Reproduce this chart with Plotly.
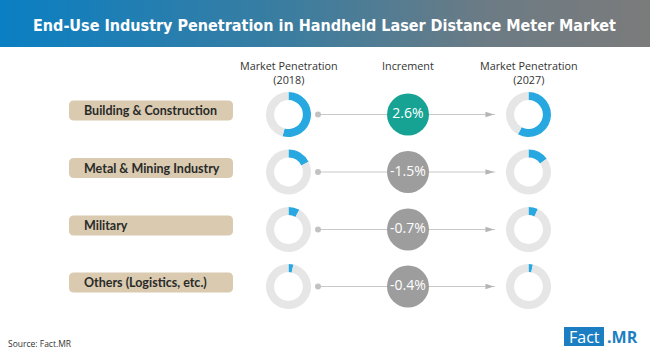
import plotly.graph_objects as go

# ---------------- data ----------------
industries = ["Building & Construction", "Metal & Mining Industry", "Military", "Others (Logistics, etc.)"]
penetration_2018 = [54.3, 17.5, 8.0, 3.5]
penetration_2027 = [57.8, 15.0, 6.8, 3.1]
increment_values = [2.6, -1.5, -0.7, -0.4]
increment_labels = ["2.6%", "-1.5%", "-0.7%", "-0.4%"]
header_labels = ["Market Penetration<br>(2018)", "Increment", "Market Penetration<br>(2027)"]
title_text = "End-Use Industry Penetration in Handheld Laser Distance Meter Market"
source_text = "Source: Fact.MR"

# ---------------- layout constants (pixels) ----------------
W, H = 650, 355
ROW_Y = [114.5, 172, 229.5, 286.5]
X_2018, X_INC, X_2027 = 288.5, 408, 528.5
DONUT_R = 22.5
INC_SIZE = 42
BLUE = "#27a8e1"
RING = "#e6e6e6"
TEAL = "#17a394"
GRAYC = "#9d9d9d"
LINE = "#c9c9c9"
TAN = "#d9cab0"

fig = go.Figure()

# title gradient band
fig.add_trace(go.Scatter(
    x=[0, W, W, 0, 0], y=[0, 0, 47, 47, 0], mode="lines", fill="toself",
    line=dict(width=0), hoverinfo="skip", showlegend=False,
    fillgradient=dict(type="horizontal",
                      colorscale=[[0, "#0a7fc3"], [0.45, "#3c7d9f"], [0.75, "#6c7b84"], [1, "#7b7b7b"]]),
))

# connecting lines with dots and arrows
for y in ROW_Y:
    fig.add_trace(go.Scatter(x=[318, 495], y=[y, y], mode="lines",
                             line=dict(color=LINE, width=1.2), hoverinfo="skip", showlegend=False))
fig.add_trace(go.Scatter(x=[318] * len(ROW_Y), y=ROW_Y, mode="markers",
                         marker=dict(color="#c2c2c2", size=6), hoverinfo="skip", showlegend=False))
fig.add_trace(go.Scatter(x=[494] * len(ROW_Y), y=ROW_Y, mode="markers",
                         marker=dict(color="#b5b5b5", size=9, symbol="arrow", angle=90),
                         hoverinfo="skip", showlegend=False))

# increment circles
fig.add_trace(go.Scatter(
    x=[X_INC] * len(ROW_Y), y=ROW_Y, mode="markers+text",
    marker=dict(size=INC_SIZE, color=[TEAL if v > 0 else GRAYC for v in increment_values], line=dict(width=0)),
    text=increment_labels, textposition="middle center",
    textfont=dict(color="white", size=14, family="Open Sans"),
    hoverinfo="skip", showlegend=False,
))


def dom(cx, cy, r):
    return dict(x=[(cx - r) / W, (cx + r) / W], y=[1 - (cy + r) / H, 1 - (cy - r) / H])


for i, y in enumerate(ROW_Y):
    for cx, vals in ((X_2018, penetration_2018), (X_2027, penetration_2027)):
        fig.add_trace(go.Pie(
            values=[vals[i], 100 - vals[i]], hole=0.64, sort=False, direction="clockwise", rotation=0,
            marker=dict(colors=[BLUE, RING], line=dict(width=0)),
            textinfo="none", hoverinfo="skip", showlegend=False, domain=dom(cx, y, DONUT_R),
        ))

shapes = []
annotations = []


def rounded_rect(x0, y0, x1, y1, r):
    return (f"M {x0 + r},{y0} L {x1 - r},{y0} Q {x1},{y0} {x1},{y0 + r} L {x1},{y1 - r} "
            f"Q {x1},{y1} {x1 - r},{y1} L {x0 + r},{y1} Q {x0},{y1} {x0},{y1 - r} "
            f"L {x0},{y0 + r} Q {x0},{y0} {x0 + r},{y0} Z")


for i, name in enumerate(industries):
    yc = ROW_Y[i] - 4
    shapes.append(dict(type="path", xref="x", yref="y", path=rounded_rect(69, yc - 10, 233, yc + 10, 5),
                       fillcolor=TAN, line=dict(width=0), layer="below"))
    annotations.append(dict(x=82, y=yc, xref="x", yref="y", text=f"<b>{name}</b>", showarrow=False,
                            xanchor="left", yanchor="middle",
                            font=dict(family="Lato", size=12.5, color="#2a2a2a")))

# headers
for hx, txt in zip((X_2018, X_INC, X_2027), header_labels):
    annotations.append(dict(x=hx, y=56, xref="x", yref="y", text=txt, showarrow=False,
                            xanchor="center", yanchor="top",
                            font=dict(family="Open Sans", size=10.8, color="#333333")))

# title
annotations.append(dict(x=W / 2 - 1, y=25, xref="x", yref="y", text=f"<b>{title_text}</b>", showarrow=False,
                        xanchor="center", yanchor="middle",
                        font=dict(family="DejaVu Sans Condensed, Roboto", size=16,
                                  color="white")))

# source
annotations.append(dict(x=6, y=343, xref="x", yref="y", text=source_text, showarrow=False,
                        xanchor="left", yanchor="middle",
                        font=dict(family="Open Sans", size=8.5, color="#333333")))

# logo
shapes.append(dict(type="rect", xref="x", yref="y", x0=564, x1=604, y0=327, y1=346,
                   fillcolor="#1b7ec2", line=dict(width=0)))
annotations.append(dict(x=584, y=336.5, xref="x", yref="y", text="Fact", showarrow=False,
                        xanchor="center", yanchor="middle",
                        font=dict(family="Open Sans", size=16, color="white")))
annotations.append(dict(x=605, y=336.5, xref="x", yref="y", text="<b>.MR</b>", showarrow=False,
                        xanchor="left", yanchor="middle",
                        font=dict(family="Open Sans", size=16, color="#1b7ec2")))

fig.update_layout(
    width=W, height=H, margin=dict(l=0, r=0, t=0, b=0),
    paper_bgcolor="white", plot_bgcolor="white",
    xaxis=dict(range=[0, W], visible=False, fixedrange=True),
    yaxis=dict(range=[H, 0], visible=False, fixedrange=True),
    shapes=shapes, annotations=annotations, showlegend=False,
)

fig.write_html("out.html", config={"displayModeBar": False},
               post_script="document.body.style.margin='0';document.body.style.overflow='hidden';")
